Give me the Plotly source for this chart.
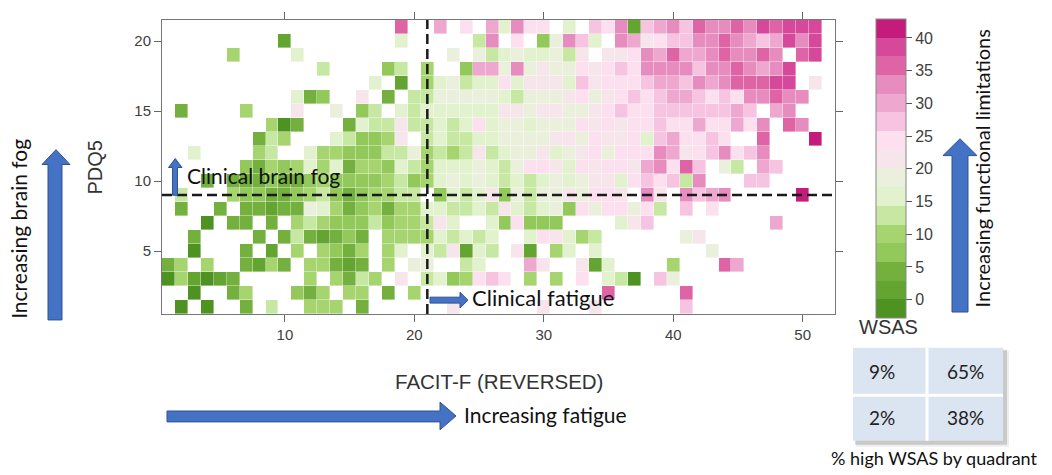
import plotly.graph_objects as go

# ---------------- data ----------------
FACIT = list(range(1, 53))          # FACIT-F (reversed) cells
PDQ5 = list(range(1, 22))           # PDQ5 cells
X_TICKS = [10, 20, 30, 40, 50]
Y_TICKS = [5, 10, 15, 20]
CB_TICKS = [0, 5, 10, 15, 20, 25, 30, 35, 40]
WSAS_MIN, WSAS_MAX = -2.8, 42.9
N_BANDS = 16
BAND_COLORS = ["#4e9322", "#64a531", "#73b03d", "#93c95b", "#a6d46f", "#c7e8a2",
               "#e2f2cf", "#ebf0dc", "#f6e5ea", "#fde0ef", "#f6c4e1", "#eea7cf",
               "#e68cbf", "#de64a6", "#d5489a", "#c51b7d"]
CUT_FACIT = 21
CUT_PDQ5 = 9
QUAD_PCT = [["9%", "65%"], ["2%", "38%"]]

# WSAS colour band read per cell (0 = lowest band ... f = highest), '.' = no data
# columns FACIT 1..52 in groups of ten
GRID = {
    21: ".......... ........d. .b.9.b6c99 .6.a9c1abc adccdcedee e.",
    20: ".........1 ........6. ....5c.9.3 7ca6.cb89a accdcbabec e.",
    19: ".....4.... 6......... ..7.756766 758.889cbd bbcdccdc.d e.",
    18: ".......... ..5....35. 4..3bb7c78 77989a9ccc caccdcbce. ..",
    17: ".......... ......6.1. 4675669688 86a8999abb acbcdddee. 8.",
    16: ".......... 623..8.2.5 5777776577 789789a9ab ba9a9ccdcc ..",
    15: ".2....4... 8..7.35.65 6666668878 87789a99aa aaaaba.bc. ..",
    14: "........40 2...265585 5656967767 77989899a9 9b99b9c.dc ..",
    13: ".......254 ...653348. 5655667777 88798896ab 99a9..d... f.",
    12: "..6....45. .644333557 4545856778 67897999cb 89ac9ac... ..",
    11: "......3243 4646244365 4666765799 8698998bc9 da.75.ba.. ..",
    10: "...2.22232 2343333453 4676765656 7678869a9a 5c...aa... ..",
    9:  ".5...43322 3453234455 .365683757 787998.c8. cabc.....f ..",
    8:  ".2..2.2212 2764234244 6655658656 739799795. a.9....... ..",
    7:  "...0.22.2. 4543335344 586..63933 3....68a.. .......b.. ..",
    6:  "..2....2.2 521232.444 465656..69 8645...... 78........ ..",
    5:  "..0...2.1. 4.4324.46. 658165.81. 46.6...... ..7....... ..",
    4:  "24.4..2142 .44212.4.7 7..56...b8 ..816....4 ...db..... ..",
    3:  "041012.... .4.4254.8. 56349a9.4. 4.9.650.a7 .......... ..",
    2:  "..0..24... 324.44.2.4 .......... ....d..... d......... ..",
    1:  ".0.0..2.5. .444.2.... ..8......8 ...8...... a......... ..",
}

CODES = "0123456789abcdef"
step = (WSAS_MAX - WSAS_MIN) / N_BANDS
z = []
for yv in PDQ5:
    s = GRID[yv].replace(" ", "")
    assert len(s) == len(FACIT), (yv, len(s))
    z.append([None if ch == "." else WSAS_MIN + (CODES.index(ch) + 0.5) * step for ch in s])

colorscale = []
for k, c in enumerate(BAND_COLORS):
    colorscale.append([k / N_BANDS, c])
    colorscale.append([(k + 1) / N_BANDS, c])

# ---------------- layout helpers ----------------
W, H = 1052, 475
L, R, T, B = 162, 835, 17, 314


def px(x):
    return (x - L) / (R - L)


def py(y):
    return (B - y) / (B - T)


AX_FONT = "Liberation Sans, Arial, sans-serif"
TXT_FONT = "Lato, Open Sans, sans-serif"
BLUE = "#4472c4"
BLUE_EDGE = "#2f528f"

fig = go.Figure(go.Heatmap(
    x=FACIT, y=PDQ5, z=z, zmin=WSAS_MIN, zmax=WSAS_MAX,
    colorscale=colorscale, hoverongaps=False, xgap=0.4, ygap=0.4,
    colorbar=dict(
        tickvals=CB_TICKS, ticks="outside", ticklen=6, tickcolor="#555",
        tickfont=dict(family=AX_FONT, size=16, color="#404040"),
        outlinecolor="#888", outlinewidth=1,
        thickness=30, lenmode="pixels", len=299,
        x=px(876), xanchor="left", y=py(16), yanchor="top", xpad=0, ypad=0,
    ),
))


def up_arrow(x0, x1, hx0, hx1, ytop, yhb, ybot):
    xc = (hx0 + hx1) / 2
    pts = [(x0, ybot), (x0, yhb), (hx0, yhb), (xc, ytop), (hx1, yhb), (x1, yhb), (x1, ybot)]
    d = "M " + " L ".join(f"{px(a):.5f},{py(b):.5f}" for a, b in pts) + " Z"
    return dict(type="path", xref="paper", yref="paper", path=d,
                fillcolor=BLUE, line=dict(color=BLUE_EDGE, width=1))


def right_arrow(xl, xhb, xtip, y0, y1, hy0, hy1):
    yc = (hy0 + hy1) / 2
    pts = [(xl, y0), (xhb, y0), (xhb, hy0), (xtip, yc), (xhb, hy1), (xhb, y1), (xl, y1)]
    d = "M " + " L ".join(f"{px(a):.5f},{py(b):.5f}" for a, b in pts) + " Z"
    return dict(type="path", xref="paper", yref="paper", path=d,
                fillcolor=BLUE, line=dict(color=BLUE_EDGE, width=1))


def rect(x0, y0, x1, y1, fill, line=None):
    return dict(type="rect", xref="paper", yref="paper",
                x0=px(x0), x1=px(x1), y0=py(y1), y1=py(y0),
                fillcolor=fill, line=line or dict(width=0))


shapes = [
    dict(type="line", xref="x", yref="paper", x0=CUT_FACIT, x1=CUT_FACIT, y0=0, y1=1,
         line=dict(color="#1a1a1a", width=2.5, dash="10px,5px")),
    dict(type="line", xref="paper", yref="y", x0=0, x1=1, y0=CUT_PDQ5, y1=CUT_PDQ5,
         line=dict(color="#1a1a1a", width=2.5, dash="10px,5px")),
    up_arrow(48, 62, 42, 70, 148, 163, 320),
    up_arrow(952, 968, 943, 977, 137, 154, 312),
    up_arrow(172.5, 177.5, 168.5, 182, 157, 166, 194),
    right_arrow(167, 440, 456, 412, 423, 403, 431),
    right_arrow(430, 460, 468, 297, 303, 292, 308),
    # table shadow + cells
    rect(856, 351, 1009, 448, "rgba(0,0,0,0.07)"),
    rect(855, 350, 1007, 446, "rgba(0,0,0,0.15)"),
    rect(853, 348, 1003, 442, "#dbe5f1"),
    dict(type="line", xref="paper", yref="paper", x0=px(927), x1=px(927), y0=py(442), y1=py(348),
         line=dict(color="white", width=3)),
    dict(type="line", xref="paper", yref="paper", x0=px(853), x1=px(1003), y0=py(396), y1=py(396),
         line=dict(color="white", width=3)),
]

ann = []


def add_text(text, x, y, size, font=TXT_FONT, color="#111", angle=0, xanchor="center"):
    ann.append(dict(text=text, x=px(x), y=py(y), xref="paper", yref="paper",
                    showarrow=False, textangle=angle, xanchor=xanchor, yanchor="middle",
                    font=dict(family=font, size=size, color=color)))


add_text("PDQ5", 95, 166, 20, AX_FONT, "#333", -90)
add_text("FACIT-F (REVERSED)", 499, 382, 20.5, AX_FONT, "#333")
add_text("Clinical brain fog", 185, 174, 21, xanchor="left")
add_text("Clinical fatigue", 470, 297, 22, xanchor="left")
add_text("Increasing brain fog", 19, 228, 21, angle=-90)
add_text("Increasing fatigue", 462, 416, 21, xanchor="left")
add_text("Increasing functional limitations", 982, 167, 20, angle=-90)
add_text("WSAS", 888, 327, 20, AX_FONT, "#333")
cell_x = [882, 965]
cell_y = [372, 419]
for i in range(2):
    for j in range(2):
        add_text(QUAD_PCT[i][j], cell_x[j], cell_y[i], 19, color="#222")
add_text("% high WSAS by quadrant", 934, 459, 18)

axis_common = dict(ticks="outside", ticklen=7, tickcolor="#666", showline=True,
                   linecolor="#777", linewidth=1, mirror="ticks", showgrid=False,
                   zeroline=False, tickfont=dict(family=AX_FONT, size=15, color="#404040"))

fig.update_layout(
    width=W, height=H, autosize=False,
    margin=dict(l=L, r=W - R, t=T, b=H - B, pad=0),
    paper_bgcolor="white", plot_bgcolor="white",
    xaxis=dict(range=[0.5, 52.5], tickvals=X_TICKS, **axis_common),
    yaxis=dict(range=[0.5, 21.5], tickvals=Y_TICKS, **axis_common),
    shapes=shapes, annotations=ann, showlegend=False,
)

fig.write_html("out.html")
